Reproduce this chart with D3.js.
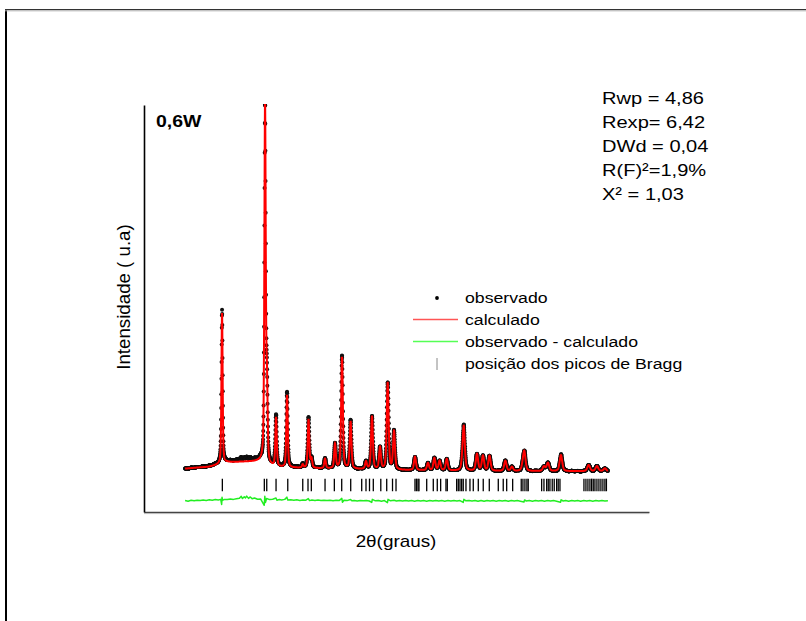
<!DOCTYPE html>
<html><head><meta charset="utf-8">
<script src="https://cdn.jsdelivr.net/npm/d3@7"></script>
<style>body{margin:0;background:#fff} svg{display:block}</style>
</head><body>
<script>
// ---- data (2θ in degrees, intensity in counts) ----
const peakPos    = [16.12, 23.24, 23.55, 25.06, 26.88, 29.48, 30.44, 30.93, 33.17, 34.82, 35.98, 37.40, 39.95, 40.94, 42.27, 43.54, 44.59, 48.06, 50.21, 51.27, 52.13, 53.32, 55.91, 56.14, 58.32, 59.31, 60.39, 63.02, 64.11, 65.90, 66.16, 69.41, 70.07, 72.22, 76.81, 78.18, 79.50];
const peakHeight = [3700, 8760, 1800, 1200, 1780, 80, 1200, 225, 235, 600, 2740, 1160, 180, 1310, 540, 2140, 940, 330, 180, 300, 235, 280, 130, 1045, 410, 370, 370, 250, 100, 100, 455, 110, 200, 395, 150, 125, 70];
const bgPos = [10, 12, 14, 16, 17, 20, 22.8, 23.8, 26, 30, 35, 45, 60, 80];
const bgVal = [1065, 1090, 1110, 1180, 1220, 1235, 1240, 1120, 1090, 1075, 1060, 1030, 1005, 1000];
const diffPos = [10, 10.5, 11, 11.5, 12, 12.5, 13, 13.5, 14, 14.5, 15, 15.5, 15.9, 16.05, 16.12, 16.2, 16.5, 17, 17.5, 18, 18.5, 19, 19.3, 19.5, 19.8, 20.0, 20.2, 20.5, 20.8, 21.1, 21.5, 22, 22.5, 23.1, 23.2, 23.3, 23.5, 24, 24.5, 25.05, 25.2, 25.6, 26, 26.5, 26.85, 27, 27.5, 28, 28.5, 29, 29.5, 30, 30.4, 30.6, 31, 31.5, 32, 32.5, 33, 33.5, 34, 34.5, 35, 35.5, 35.95, 36.05, 36.3, 36.8, 37.4, 37.6, 38, 38.5, 39, 39.5, 40, 40.5, 40.9, 41.0, 41.5, 42, 42.5, 43, 43.5, 43.6, 44, 44.6, 45, 45.5, 46, 46.5, 47, 47.5, 48, 48.5, 49, 49.5, 50, 50.5, 51, 51.5, 52, 52.5, 53, 53.5, 54, 54.5, 55, 55.5, 56.05, 56.15, 56.5, 57, 57.5, 58, 58.5, 59, 59.5, 60, 60.5, 61, 61.5, 62, 62.5, 63, 63.5, 64, 64.5, 65, 65.5, 66.1, 66.2, 66.5, 67, 67.5, 68, 68.5, 69, 69.5, 70, 70.5, 71, 71.5, 72.15, 72.25, 72.6, 73, 73.5, 74, 74.5, 75, 75.5, 76, 76.5, 77, 77.5, 78, 78.5, 79, 79.5, 80];
const diffVal = [5, -10, 12, 0, 15, 5, 20, 10, 25, 15, 30, 20, 35, -90, 85, 10, 35, 30, 45, 35, 50, 60, 110, 55, 100, 70, 115, 60, 95, 50, 70, 40, 45, -110, 110, -40, 55, 30, 40, 70, 15, 30, 20, 35, 90, 20, 25, 15, 25, 10, 20, 15, 55, 5, 20, 10, 20, 5, 15, 5, 15, 0, 15, 5, 60, -35, 15, 5, 30, 0, 10, -5, 10, 0, 10, -5, -40, 35, 0, 10, -10, 5, -45, 35, 0, 15, -5, 5, -5, 5, -5, 5, -10, 10, -5, 5, -10, 5, -5, 10, -5, 5, -10, 5, -5, 5, -5, 5, -40, 35, 0, 5, -5, 5, -10, 5, -10, 5, -5, 5, -10, 5, -5, 5, -10, 5, -5, 5, -10, -30, 20, -5, 5, -10, 5, -5, 5, -10, 5, -5, 5, -10, -35, 25, -5, 5, -10, 5, -5, 5, -10, 5, -5, 5, -10, 5, -5, 5, -5, 0];
const braggPos = [16.17, 23.12, 23.52, 25.06, 27.00, 29.48, 30.35, 30.90, 33.17, 34.71, 35.93, 37.42, 39.24, 39.95, 40.53, 41.16, 42.40, 43.38, 44.34, 44.92, 48.06, 48.31, 48.56, 48.72, 50.00, 51.09, 51.75, 52.31, 53.19, 53.41, 54.96, 55.23, 55.51, 55.79, 56.05, 56.50, 57.16, 57.71, 58.54, 59.36, 60.36, 61.85, 62.67, 63.24, 64.23, 65.65, 65.93, 66.26, 66.59, 66.81, 69.03, 69.41, 69.86, 70.12, 70.40, 70.78, 71.11, 71.51, 71.77, 72.06, 76.03, 76.36, 76.69, 77.02, 77.30, 77.57, 77.85, 78.18, 78.51, 78.84, 79.17, 79.50, 79.75];
const statsLines = ["Rwp = 4,86", "Rexp= 6,42", "DWd = 0,04", "R(F)²=1,9%", "X² = 1,03"];
const legendLabels = ["observado", "calculado", "observado - calculado", "posição dos picos de Bragg"];
const sampleTitle = "0,6W";
const xTitle = "2θ(graus)";
const yTitle = "Intensidade ( u.a)";
const scanStart = 10, scanEnd = 80, scanStep = 0.02, diffOffset = 275;

// ---- drawing ----
const W = 806, H = 621, SX = 1.18;
const FONT = "'Liberation Sans', Arial, sans-serif";
const svg = d3.select("body").append("svg").attr("width", W).attr("height", H);

const x = d3.scaleLinear().domain([3.2, 86.8]).range([144, 649]);
const y = d3.scaleLinear().domain([0, 10000]).range([512, 105]);
const bg = d3.scaleLinear().domain(bgPos).range(bgVal).clamp(true);
const diffAt = d3.scaleLinear().domain(diffPos).range(diffVal).clamp(true);

function fwhm(t) { return 0.2 + 0.005 * (t - 10); }
function calc(t) {
  let s = bg(t);
  for (let i = 0; i < peakPos.length; i++) {
    const w = fwhm(peakPos[i]);
    const d = (t - peakPos[i]) / (w / 2);
    s += peakHeight[i] * (0.55 * Math.exp(-Math.LN2 * d * d) + 0.45 / (1 + d * d));
  }
  return s;
}
const grid = d3.range(scanStart, scanEnd + scanStep / 2, scanStep);
const calcData = grid.map(t => [t, calc(t)]);
const obsData = grid.map(t => [t, calc(t) + diffAt(t)]);

// outer frame
svg.append("line").attr("x1", 6).attr("x2", 6).attr("y1", 9).attr("y2", H).attr("stroke", "#000").attr("stroke-width", 2);
svg.append("line").attr("x1", 5).attr("x2", W).attr("y1", 9.5).attr("y2", 9.5).attr("stroke", "#333").attr("stroke-width", 1.2);
svg.append("line").attr("x1", 5).attr("x2", W).attr("y1", 10.8).attr("y2", 10.8).attr("stroke", "#aaa").attr("stroke-width", 1);

// clip
svg.append("clipPath").attr("id", "plot").append("rect")
  .attr("x", 144).attr("y", 104).attr("width", 505).attr("height", 408);
const g = svg.append("g").attr("clip-path", "url(#plot)");

// difference curve
g.append("path").datum(diffPos.map((p, i) => [p, diffVal[i]]))
  .attr("fill", "none").attr("stroke", "#22ee22").attr("stroke-width", 1.5)
  .attr("stroke-linejoin", "round")
  .attr("d", d3.line().x(d => x(d[0])).y(d => y(diffOffset + d[1])));

// Bragg positions
g.selectAll("line.bragg").data(braggPos).join("line").attr("class", "bragg")
  .attr("x1", d => x(d)).attr("x2", d => x(d))
  .attr("y1", y(820)).attr("y2", y(510))
  .attr("stroke", "#000").attr("stroke-width", 1.3);

// observed points
g.append("g").selectAll("circle").data(obsData).join("circle")
  .attr("cx", d => x(d[0])).attr("cy", d => y(d[1])).attr("r", 2).attr("fill", "#111");

// calculated curve
g.append("path").datum(calcData)
  .attr("fill", "none").attr("stroke", "#ff0000").attr("stroke-width", 2)
  .attr("d", d3.line().x(d => x(d[0])).y(d => y(d[1])));

// axes (no ticks)
const xAxis = d3.axisBottom(x).tickValues([]).tickSize(0).tickSizeOuter(0);
const yAxis = d3.axisLeft(y).tickValues([]).tickSize(0).tickSizeOuter(0);
svg.append("g").attr("transform", "translate(0,512)").call(xAxis)
  .call(s => s.select(".domain").attr("stroke", "#444").attr("stroke-width", 1.6));
svg.append("line").attr("x1", 144).attr("x2", 649).attr("y1", 513.6).attr("y2", 513.6).attr("stroke", "#bbb").attr("stroke-width", 1);
svg.append("g").attr("transform", "translate(144,0)").call(yAxis)
  .call(s => s.select(".domain").attr("stroke", "#000").attr("stroke-width", 1.6));

function stretchedText(px, py, txt, size, weight, anchor) {
  return svg.append("text").attr("transform", `translate(${px},${py}) scale(${SX},1)`)
    .attr("font-family", FONT).attr("font-size", size).attr("font-weight", weight || "normal")
    .attr("text-anchor", anchor || "start").attr("fill", "#000").text(txt);
}

// titles
stretchedText(156, 127, sampleTitle, 16.5, "bold");
stretchedText(396, 547, xTitle, 16, "normal", "middle");
svg.append("text").attr("transform", "translate(130,297) rotate(-90)")
  .attr("font-family", FONT).attr("font-size", 18.7).attr("text-anchor", "middle").text(yTitle);

// stats
statsLines.forEach((s, i) => stretchedText(602, 104 + i * 24, s, 17, "normal"));

// legend
const lgX = 465, lgY = [303, 325, 347, 369];
legendLabels.forEach((s, i) => stretchedText(lgX, lgY[i], s, 15, "normal"));
svg.append("circle").attr("cx", 437).attr("cy", 298).attr("r", 1.9).attr("fill", "#000");
svg.append("line").attr("x1", 413).attr("x2", 458).attr("y1", 319.5).attr("y2", 319.5).attr("stroke", "#ff5555").attr("stroke-width", 1.3);
svg.append("line").attr("x1", 413).attr("x2", 458).attr("y1", 341.5).attr("y2", 341.5).attr("stroke", "#55ff55").attr("stroke-width", 1.3);
svg.append("line").attr("x1", 437).attr("x2", 437).attr("y1", 358).attr("y2", 370).attr("stroke", "#888").attr("stroke-width", 1);
</script>
</body></html>
